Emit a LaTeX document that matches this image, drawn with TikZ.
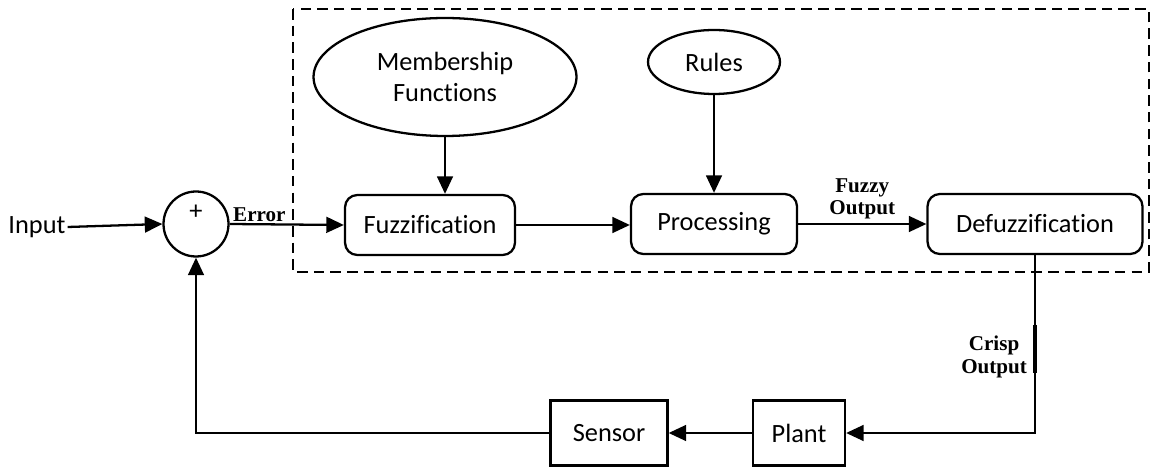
\documentclass[tikz,border=0pt]{standalone}
\usepackage{fontspec}
\setmainfont{Carlito}[Ligatures=NoCommon]
\newfontfamily\labelfont{Liberation Serif}
\usetikzlibrary{arrows.meta,shapes.geometric}

\tikzset{
  line/.style={line width=1.3pt},
  arr/.style={line, -{Triangle[length=10pt,width=9pt]}},
  block/.style={draw, line width=1.3pt, rounded corners=7pt, minimum height=1.2cm, font=\fontsize{15}{17}\selectfont},
  plainblock/.style={draw, line width=1.3pt, minimum height=1.3cm, font=\fontsize{15}{17}\selectfont},
  oval/.style={draw, ellipse, line width=1.3pt, inner sep=0pt, align=center, font=\fontsize{15}{18}\selectfont},
  tag/.style={font=\labelfont\bfseries\fontsize{12}{13}\selectfont, align=center, inner sep=1pt}
}

\begin{document}
\begin{tikzpicture}[x=0.02cm, y=-0.02cm]
    \useasboundingbox (0,0) rectangle (1155,472);
    % controller boundary
    \draw[line, dash pattern=on 6pt off 3.5pt] (293,9) rectangle (1149,272);

    \node[font=\fontsize{15}{17}\selectfont, inner sep=1pt] (input) at (37,227) {Input};
    \node[draw, circle, line width=1.3pt, minimum size=1.3cm, inner sep=0pt] (sum) at (196,224) {};
    \node[font=\fontsize{15}{17}\selectfont] (plus) at ([yshift=0.23cm]sum.center) {+};

    \node[block, minimum width=3.4cm]  (fuzz) at (430,225) {Fuzzification};
    \node[block, minimum width=3.32cm] (proc) at (714,224) {Processing};
    \node[block, minimum width=4.3cm]  (defuzz) at (1035,224) {Defuzzification};

    \node[oval, minimum width=5.26cm, minimum height=2.36cm] (member) at (445,77) {Membership\\Functions};
    \node[oval, minimum width=2.64cm, minimum height=1.28cm] (rules) at (714,62) {Rules};

    \node[plainblock, minimum width=1.84cm] (plant) at (799,433) {Plant};
    \node[plainblock, minimum width=2.34cm] (sensor) at (609,433) {Sensor};

    \coordinate (corner) at (1035,433);
    \coordinate (back) at (196,433);

    \draw[arr] (input.east) -- (sum.west);
    \draw[arr] (sum.east) -- node[pos=0.26, above, tag] {Error} (fuzz.west);
    \draw[arr] (member.south) -- (fuzz.north -| member.south);
    \draw[arr] (rules.south) -- (proc.north);
    \draw[arr] (fuzz.east) -- (proc.west |- fuzz.east);
    \draw[arr] (proc.east) -- node[above, tag, yshift=1pt] {Fuzzy\\Output} (defuzz.west |- proc.east);
    \draw[arr] (defuzz.south) -- (corner) -- (plant.east);
    \draw[line width=2.8pt] (1035,325) -- (1035,373);
    \node[tag, anchor=east] (crisp) at (1029,357) {Crisp\\Output};
    \draw[arr] (plant.west) -- (sensor.east);
    \draw[arr] (sensor.west) -- (back) -- (sum.south);
\end{tikzpicture}
\end{document}
